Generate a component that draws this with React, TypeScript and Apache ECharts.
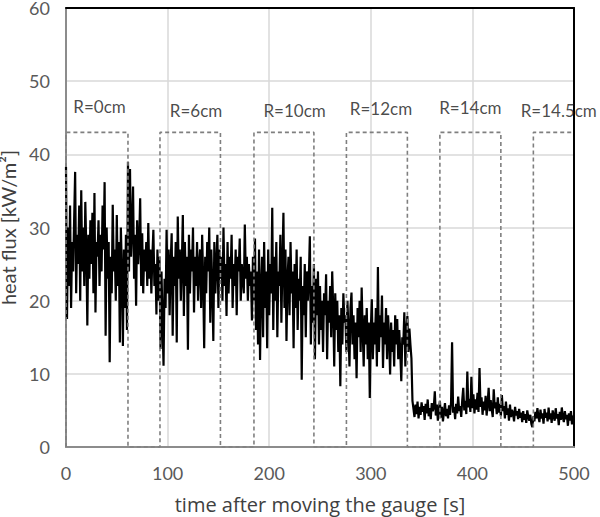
import React, { useEffect, useRef } from "react";
import * as echarts from "echarts";

// heat flux [kW/m²], one sample per second
const flux0to99 = [
  38.3, 17.5, 30, 22, 33, 19, 28, 24, 31, 37.6, 21, 29, 25, 33, 20, 35.1, 24, 30, 22, 33.5, 27, 16.6, 29, 23, 31,
  25, 32, 21, 34.7, 18.4, 28, 26, 31, 22, 29, 24, 33, 27, 36.2, 15.2, 30, 23, 28, 11.6, 26, 21, 33.1, 24, 27, 20,
  31.7, 22, 28, 14.3, 30, 24, 13.8, 27, 19, 29, 16, 39, 24, 38, 26, 30, 35.6, 23, 29, 19.3, 31, 25, 28, 34, 22,
  29.2, 21, 27, 24, 28, 22, 30.6, 23, 27, 21, 26, 29.7, 22, 25, 18.1, 27, 20, 26, 13.4, 24, 17, 11.1, 23, 19, 29.7,
];
const flux100to199 = [
  21, 27, 18, 25, 29.2, 15.2, 26, 22, 28, 14.3, 31.5, 23, 27, 20, 25, 31.7, 17.9, 28, 22, 26, 13.3, 29, 21, 27, 24,
  30, 18.4, 26, 22, 28, 20, 25, 27, 19, 29, 23, 13.5, 26, 21, 28, 24, 30, 17, 27, 22, 14.5, 28, 21, 25, 29,
  19, 27, 23, 26, 20, 30, 22, 25, 17.9, 28, 21, 26, 23, 29, 19, 25, 22, 27, 18, 26, 24, 28.5, 20, 25, 23,
  21, 30.4, 23, 26, 20, 25, 22, 24, 17.3, 26, 20, 28.5, 16, 24, 14, 27, 11.9, 22, 26, 15, 28, 19, 24, 13.5, 27,
];
const flux200to299 = [
  18, 25, 21, 32.7, 16, 26, 20, 28, 15, 24, 22, 29, 17, 25, 32, 19, 27, 14.5, 23, 26, 18, 28, 21, 24, 13.5,
  25, 19, 27, 16, 23, 20, 26, 9.2, 22, 18, 25, 15, 24, 20, 23, 28.8, 14, 22, 17, 25, 12, 23, 18, 24, 14,
  22, 16, 20, 13, 21, 18, 23.6, 12, 20, 17, 22, 15, 24, 19, 11, 21, 16, 20, 13, 18, 8.3, 19, 14, 21, 17,
  18, 13, 20, 16, 11, 19, 21.1, 14, 18, 12, 17, 9.4, 19, 15, 20, 13, 21.8, 16, 11, 18, 14, 19, 12, 17, 6.7,
];
const flux300to399 = [
  16, 20.2, 12, 17, 14, 19, 11, 24.6, 13, 18, 15, 20.7, 10.8, 17, 14, 19, 12, 18, 15, 9.9, 17, 13, 16, 11, 18,
  14, 17.5, 12, 16, 13, 9, 15, 14, 18.4, 11, 16, 17.9, 13, 16.2, 14, 12.1, 6.3, 5.2, 4.1, 5.8, 4.5, 6.2, 3.9, 5.5, 4.4,
  6.1, 4.8, 5.6, 3.7, 5.9, 4.6, 6.5, 4.2, 5.3, 3.8, 6, 4.9, 5.4, 7.6, 4.3, 5.8, 3.6, 5.1, 6.3, 4, 5.5, 3.5, 4.8, 6, 4.2,
  5.2, 3.9, 5.7, 4.4, 6.1, 14.3, 4.7, 5.5, 3.8, 5.9, 4.6, 6.9, 4.9, 5.6, 4.1, 6.4, 8.1, 5, 6.3, 4.5, 10.3, 5.4, 6.6, 4.8, 9.6,
];
const flux400to500 = [
  5.3, 7.2, 4.6, 6.5, 5.1, 7.4, 4.8, 10.8, 5.5, 6.8, 4.4, 6.2, 5, 7, 4.3, 6, 8.1, 4.9, 6.4, 5.2, 4.1, 7.9, 5.3, 6.1, 4.5,
  6.8, 4.7, 5.9, 4.2, 7.1, 4.9, 5.6, 3.9, 6.2, 4.4, 5.3, 3.6, 5.8, 4.1, 5.1, 4.6, 3.5, 5.5, 4.3, 4.9, 3.8, 5.2, 4, 4.7, 3.4,
  4.9, 3.7, 4.5, 3.3, 5, 4.1, 3.6, 4.4, 3.2, 2.7, 4.2, 3.5, 4.8, 3.9, 5.3, 4.1, 3.4, 5.1, 3.9, 4.6, 3.2, 5.2, 4, 4.7, 3.5,
  5.4, 3.8, 4.6, 3.3, 5, 4.2, 3.6, 5.3, 3.9, 4.5, 3, 4.8, 3.7, 5.4, 4.1, 3.4, 4.9, 3.8, 4.4, 2.9, 4.6, 3.6, 4.9, 3.1, 4.3, 3.5,
];

// measurement windows (gauge positions)
const windowStart = [0, 92.5, 185, 276, 368, 460];
const windowEnd = [61, 152, 244, 336, 428, 500];
const windowLevel = 43;

const labelText = ["R=0cm", "R=6cm", "R=10cm", "R=12cm", "R=14cm", "R=14.5cm"];
const labelTime = [33, 128, 225, 310, 398, 485];
const labelLevel = [46.5, 46, 46, 46.2, 46.4, 46];

const xTicks = { min: 0, max: 500, interval: 100 };
const yTicks = { min: 0, max: 60, interval: 10 };

const FONT = "Lato";

export default function App() {
  const ref = useRef<HTMLDivElement>(null);
  useEffect(() => {
    if (!ref.current) return;
    const chart = echarts.init(ref.current, undefined, { renderer: "svg" });
    const flux = [...flux0to99, ...flux100to199, ...flux200to299, ...flux300to399, ...flux400to500];
    const fluxData = flux.map((v, i) => [i, v]);
    const wave: number[][] = [];
    windowStart.forEach((s, i) => {
      const e = windowEnd[i];
      wave.push([s, 0], [s, windowLevel], [e, windowLevel]);
      if (e < xTicks.max) wave.push([e, 0]);
    });
    const labelData = labelTime.map((t, i) => ({ value: [t, labelLevel[i]], name: labelText[i] }));
    const axisLabel = { color: "#595959", fontSize: 18, fontFamily: FONT };
    chart.setOption({
      animation: false,
      backgroundColor: "#ffffff",
      grid: { left: 66, right: 26, top: 8, bottom: 70, containLabel: false, outerBoundsMode: "none" },
      xAxis: [
        {
          type: "value",
          ...xTicks,
          axisLine: { show: true, onZero: false, lineStyle: { color: "#8c8c8c", width: 2 } },
          axisTick: { show: false },
          axisLabel: { ...axisLabel, margin: 17 },
          splitLine: { show: true, lineStyle: { color: "#d9d9d9", width: 1.5 } },
          name: "time after moving the gauge [s]",
          nameLocation: "middle",
          nameGap: 47,
          nameTextStyle: { color: "#404040", fontSize: 20, fontFamily: "Open Sans" },
        },
        {
          type: "value",
          position: "top",
          ...xTicks,
          axisLine: { show: true, onZero: false, lineStyle: { color: "#000", width: 2 } },
          axisTick: { show: false },
          axisLabel: { show: false },
          splitLine: { show: false },
        },
      ],
      yAxis: [
        {
          type: "value",
          ...yTicks,
          axisLine: { show: true, onZero: false, lineStyle: { color: "#8c8c8c", width: 2 } },
          axisTick: { show: false },
          axisLabel: { ...axisLabel, margin: 16 },
          splitLine: { show: true, lineStyle: { color: "#d9d9d9", width: 1.5 } },
          name: "heat flux [kW/m²]",
          nameLocation: "middle",
          nameGap: 40,
          nameTextStyle: { color: "#404040", fontSize: 20, fontFamily: FONT },
        },
        {
          type: "value",
          position: "right",
          ...yTicks,
          axisLine: { show: true, onZero: false, lineStyle: { color: "#000", width: 2 } },
          axisTick: { show: false },
          axisLabel: { show: false },
          splitLine: { show: false },
        },
      ],
      series: [
        {
          type: "line",
          data: fluxData,
          symbol: "none",
          lineStyle: { color: "#000", width: 2.2 },
          z: 2,
        },
        {
          type: "line",
          data: wave,
          symbol: "none",
          lineStyle: { color: "#7f7f7f", width: 1.6, type: [4, 3] },
          z: 3,
        },
        {
          type: "scatter",
          data: labelData,
          symbolSize: 1,
          itemStyle: { color: "rgba(0,0,0,0)" },
          label: {
            show: true,
            position: "inside",
            formatter: "{b}",
            color: "#1a1a1a",
            fontSize: 17,
            fontFamily: FONT,
          },
          z: 4,
        },
      ],
    });
    return () => chart.dispose();
  }, []);
  return (
    <div
      ref={ref}
      style={{ position: "fixed", left: 0, top: 0, width: 600, height: 517, background: "#fff" }}
    />
  );
}
